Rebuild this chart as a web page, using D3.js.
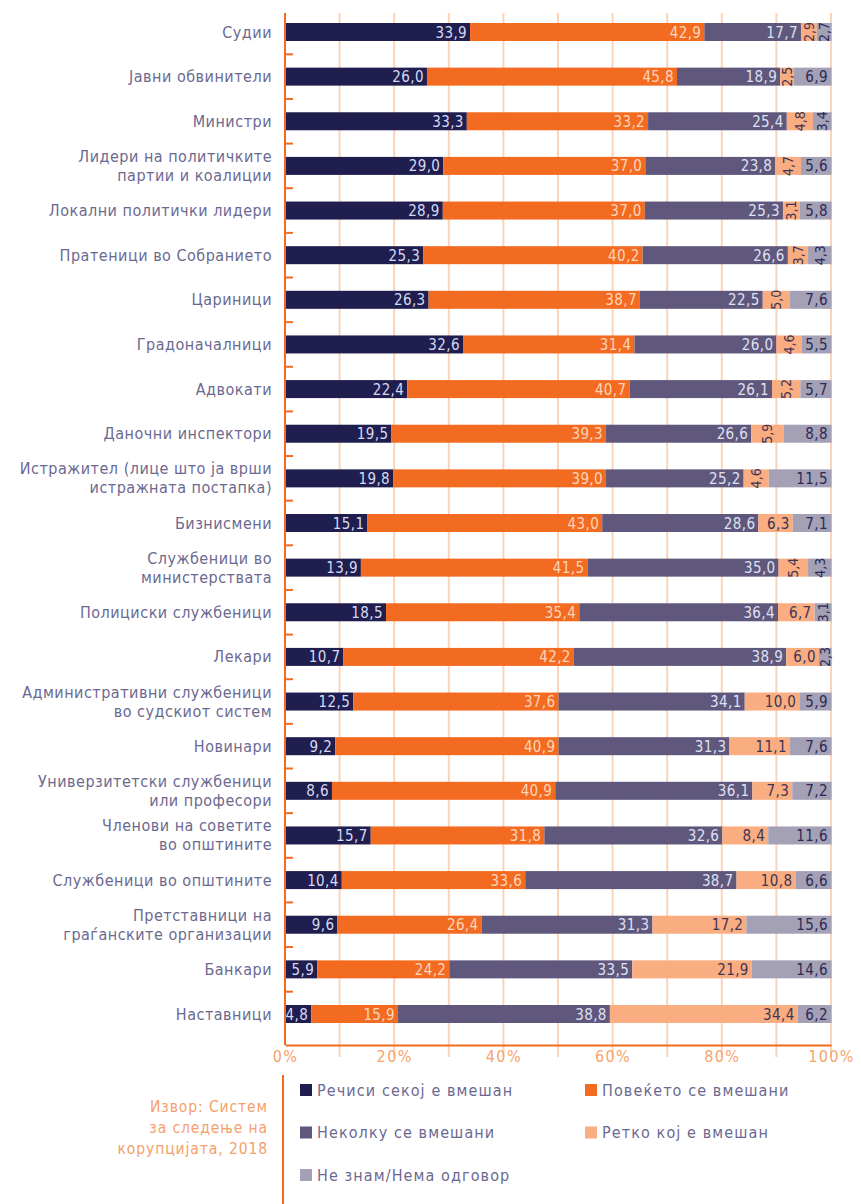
<!DOCTYPE html>
<html>
<head>
<meta charset="utf-8">
<script src="https://cdn.jsdelivr.net/npm/d3@7"></script>
<style>
  html, body { margin: 0; padding: 0; background: #ffffff; }
  svg { display: block; }
  text { font-family: "DejaVu Sans Condensed", "DejaVu Sans", sans-serif; }
</style>
</head>
<body>
<svg id="chart" width="861" height="1204"></svg>
<script>
// ---------- data ----------
const categories = [
  "Судии",
  "Јавни обвинители",
  "Министри",
  "Лидери на политичките\nпартии и коалиции",
  "Локални политички лидери",
  "Пратеници во Собранието",
  "Цариници",
  "Градоначалници",
  "Адвокати",
  "Даночни инспектори",
  "Истражител (лице што ја врши\nистражната постапка)",
  "Бизнисмени",
  "Службеници во\nминистерствата",
  "Полициски службеници",
  "Лекари",
  "Административни службеници\nво судскиот систем",
  "Новинари",
  "Универзитетски службеници\nили професори",
  "Членови на советите\nво општините",
  "Службеници во општините",
  "Претставници на\nграѓанските организации",
  "Банкари",
  "Наставници"
];

const seriesNames = [
  "Речиси секој е вмешан",
  "Повеќето се вмешани",
  "Неколку се вмешани",
  "Ретко кој е вмешан",
  "Не знам/Нема одговор"
];

const almostAll = [33.9,26.0,33.3,29.0,28.9,25.3,26.3,32.6,22.4,19.5,19.8,15.1,13.9,18.5,10.7,12.5,9.2,8.6,15.7,10.4,9.6,5.9,4.8];
const most      = [42.9,45.8,33.2,37.0,37.0,40.2,38.7,31.4,40.7,39.3,39.0,43.0,41.5,35.4,42.2,37.6,40.9,40.9,31.8,33.6,26.4,24.2,15.9];
const some      = [17.7,18.9,25.4,23.8,25.3,26.6,22.5,26.0,26.1,26.6,25.2,28.6,35.0,36.4,38.9,34.1,31.3,36.1,32.6,38.7,31.3,33.5,38.8];
const rarely    = [2.9,2.5,4.8,4.7,3.1,3.7,5.0,4.6,5.2,5.9,4.6,6.3,5.4,6.7,6.0,10.0,11.1,7.3,8.4,10.8,17.2,21.9,34.4];
const dontKnow  = [2.7,6.9,3.4,5.6,5.8,4.3,7.6,5.5,5.7,8.8,11.5,7.1,4.3,3.1,2.3,5.9,7.6,7.2,11.6,6.6,15.6,14.6,6.2];

const xTicks = [0, 20, 40, 60, 80, 100];
const gridValues = [10, 20, 30, 40, 50, 60, 70, 80, 90, 100];

const sourceLines = ["Извор: Систем", "за следење на", "корупцијата, 2018"];

// ---------- styles ----------
const colors = ["#1f1e4f", "#f26b21", "#5f587c", "#f9ad80", "#a4a0b6"];
const labelColors = ["#d6daf2", "#fdd5bb", "#dfe0f2", "#3f3556", "#2a2a55"];
const rotateBelow = [0, 0, 0, 6, 5];
const orange = "#f26b21";
const gridColor = "#fbd3b8";
const textColor = "#6b6990";

// ---------- build ----------
const values = [almostAll, most, some, rarely, dontKnow];
const rows = categories.map((c, i) => {
  const r = { category: c };
  seriesNames.forEach((s, k) => { r[s] = values[k][i]; });
  return r;
});
const stacked = d3.stack().keys(seriesNames)(rows);

const svg = d3.select("#chart");

const x = d3.scaleLinear().domain([0, 100]).range([285, 831]);
const y = d3.scalePoint().domain(categories).range([32, 1014]);
const barH = 18;
const plotTop = 13, plotBottom = 1045;

// gridlines
svg.append("g").selectAll("line").data(gridValues).join("line")
  .attr("x1", d => x(d)).attr("x2", d => x(d))
  .attr("y1", plotTop).attr("y2", plotBottom + 12)
  .attr("stroke", gridColor).attr("stroke-width", 2);

// bars
const layer = svg.append("g").selectAll("g").data(stacked).join("g")
  .attr("fill", (d, k) => colors[k]);
layer.selectAll("rect").data(d => d).join("rect")
  .attr("x", d => x(d[0]))
  .attr("width", d => x(d[1]) - x(d[0]))
  .attr("y", d => y(d.data.category) - barH / 2)
  .attr("height", barH);

// value labels
const fmt = v => d3.format(".1f")(v).replace(".", ",");
stacked.forEach((s, k) => {
  const g = svg.append("g").attr("fill", labelColors[k])
    .attr("font-size", 15).attr("letter-spacing", 0.4);
  s.forEach(d => {
    const v = d[1] - d[0];
    const cy = y(d.data.category);
    if (v < rotateBelow[k]) {
      const cx = (x(d[0]) + x(d[1])) / 2;
      g.append("text")
        .attr("transform", `translate(${cx},${cy}) rotate(-90)`)
        .attr("text-anchor", "middle")
        .attr("dominant-baseline", "central")
        .attr("font-size", 14)
        .attr("letter-spacing", 0)
        .text(fmt(v));
    } else {
      g.append("text")
        .attr("x", Math.min(x(d[1]), x(100)) - 3)
        .attr("y", cy + 0.5)
        .attr("text-anchor", "end")
        .attr("dominant-baseline", "central")
        .text(fmt(v));
    }
  });
});

// left axis line and row ticks
svg.append("line")
  .attr("x1", x(0)).attr("x2", x(0))
  .attr("y1", plotTop).attr("y2", plotBottom)
  .attr("stroke", orange).attr("stroke-width", 2);
const mids = categories.slice(1).map((c, i) => (y(categories[i]) + y(c)) / 2);
svg.append("g").selectAll("line").data(mids).join("line")
  .attr("x1", x(0)).attr("x2", x(0) + 8)
  .attr("y1", d => d).attr("y2", d => d)
  .attr("stroke", orange).attr("stroke-width", 2);

// bottom axis
const xAxis = d3.axisBottom(x).tickValues(xTicks).tickSize(0).tickFormat(d => d + "%");
const ax = svg.append("g").attr("transform", `translate(0,${plotBottom})`).call(xAxis);
ax.select(".domain").attr("stroke", orange).attr("stroke-width", 2);
ax.selectAll("text")
  .attr("fill", "#f6a46c")
  .attr("font-size", 16)
  .attr("letter-spacing", 1.4)
  .attr("font-family", "'DejaVu Sans Condensed', sans-serif")
  .attr("y", 6)
  .attr("dy", "0.71em");

// category labels
const lineH = 19;
const catG = svg.append("g").attr("fill", textColor).attr("font-size", 16)
  .attr("letter-spacing", 0.5)
  .attr("text-anchor", "end");
categories.forEach(c => {
  const lines = c.split("\n");
  const cy = y(c);
  lines.forEach((ln, i) => {
    catG.append("text")
      .attr("x", 272)
      .attr("y", cy + (i - (lines.length - 1) / 2) * lineH)
      .attr("dominant-baseline", "central")
      .text(ln);
  });
});

// source
svg.append("line")
  .attr("x1", 283).attr("x2", 283)
  .attr("y1", 1075).attr("y2", 1204)
  .attr("stroke", orange).attr("stroke-width", 2);
svg.append("g").attr("fill", "#f4a06a").attr("font-size", 15.5)
  .attr("letter-spacing", 0.9).attr("text-anchor", "end")
  .selectAll("text").data(sourceLines).join("text")
  .attr("x", 268)
  .attr("y", (d, i) => 1107 + i * 21)
  .attr("dominant-baseline", "central")
  .text(d => d);

// legend
const legend = svg.append("g");
seriesNames.forEach((s, k) => {
  const col = k % 2, row = Math.floor(k / 2);
  const lx = col === 0 ? 300 : 585;
  const ly = 1090 + row * 42.5;
  legend.append("rect")
    .attr("x", lx).attr("y", ly - 6)
    .attr("width", 12).attr("height", 12)
    .attr("fill", colors[k]);
  legend.append("text")
    .attr("x", lx + 17).attr("y", ly)
    .attr("dominant-baseline", "central")
    .attr("font-size", 16)
    .attr("letter-spacing", 1.1)
    .attr("fill", textColor)
    .text(s);
});
</script>
</body>
</html>
